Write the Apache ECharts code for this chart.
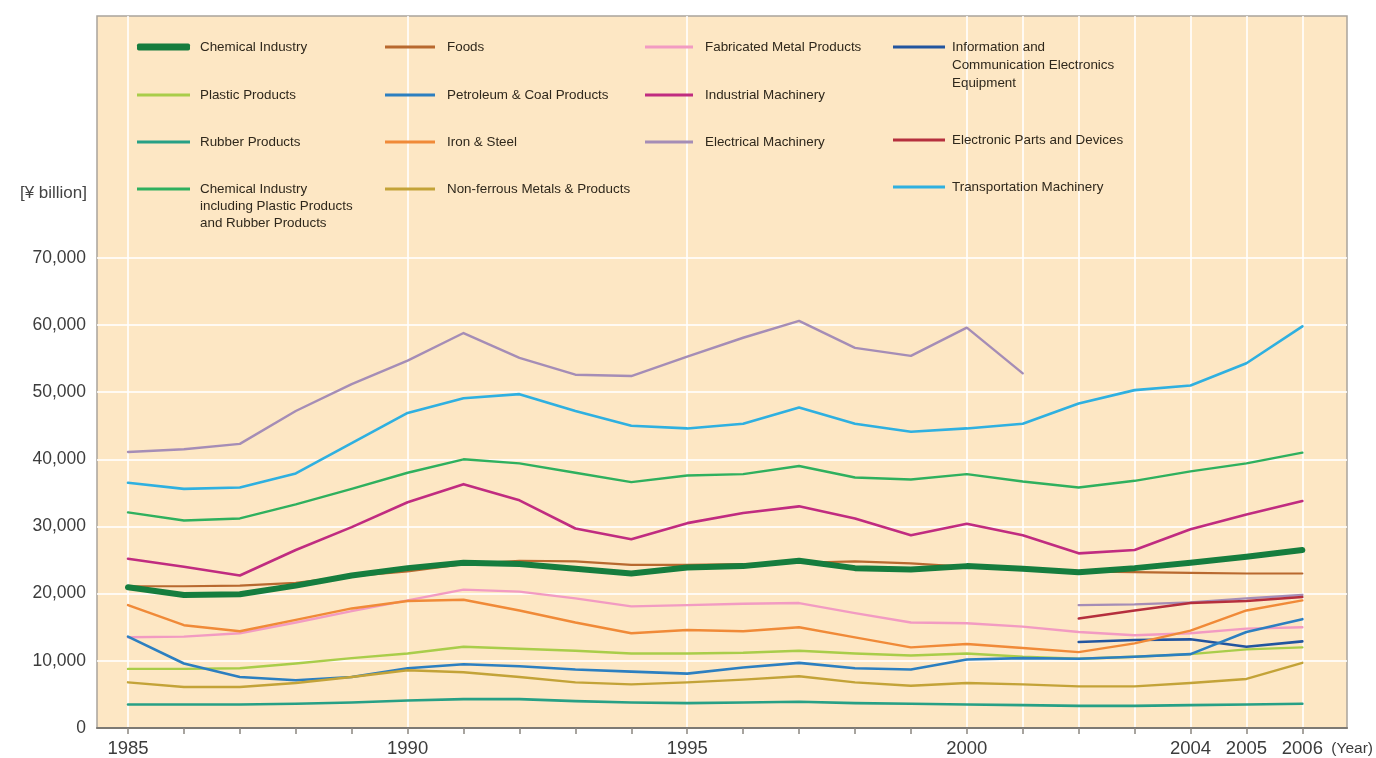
<!DOCTYPE html>
<html>
<head>
<meta charset="utf-8">
<script src="https://cdn.jsdelivr.net/npm/echarts@6.0.0/dist/echarts.min.js"></script>
<style>
  html, body { margin: 0; padding: 0; background: #ffffff; }
  #chart { width: 1376px; height: 758px; }
</style>
</head>
<body>
<div id="chart"></div>
<script>
// Shipments by industry, 1985-2006 [¥ billion]
const years = ['1985','1986','1987','1988','1989','1990','1991','1992','1993','1994','1995',
               '1996','1997','1998','1999','2000','2001','2002','2003','2004','2005','2006'];
const labeledYears = ['1985','1990','1995','2000','2004','2005','2006'];
const gridYears = ['1985','1990','1995','2000','2001','2002','2003','2004','2005','2006'];

const chemicalIndustry = [20950, 19800, 19900, 21200, 22700, 23800, 24600, 24400, 23700, 23000, 23900,
                          24100, 24900, 23800, 23600, 24100, 23700, 23200, 23800, 24600, 25500, 26500];
const foods            = [21100, 21100, 21200, 21600, 22600, 23300, 24400, 24900, 24800, 24300, 24300,
                          24400, 24600, 24800, 24500, 24000, 23700, 23300, 23200, 23100, 23000, 23000];
const fabricatedMetal  = [13500, 13600, 14100, 15700, 17400, 19000, 20600, 20300, 19300, 18100, 18300,
                          18500, 18600, 17100, 15700, 15600, 15100, 14300, 13800, 14100, 14800, 15000];
const infoComm         = [null, null, null, null, null, null, null, null, null, null, null,
                          null, null, null, null, null, null, 12800, 13100, 13200, 12100, 12900];
const plasticProducts  = [8800, 8800, 8900, 9600, 10400, 11100, 12100, 11800, 11500, 11100, 11100,
                          11200, 11500, 11100, 10800, 11100, 10600, 10300, 10600, 11000, 11700, 12000];
const petroleumCoal    = [13600, 9600, 7600, 7100, 7600, 8900, 9500, 9200, 8700, 8400, 8100,
                          9000, 9700, 8900, 8700, 10200, 10400, 10300, 10600, 11000, 14300, 16200];
const industrialMach   = [25200, 24000, 22700, 26500, 29900, 33600, 36300, 33900, 29700, 28100, 30500,
                          32000, 33000, 31200, 28700, 30400, 28700, 26000, 26500, 29600, 31800, 33800];
const rubberProducts   = [3500, 3500, 3500, 3600, 3800, 4100, 4300, 4300, 4000, 3800, 3700,
                          3800, 3900, 3700, 3600, 3500, 3400, 3300, 3300, 3400, 3500, 3600];
const ironSteel        = [18300, 15300, 14400, 16100, 17800, 18900, 19100, 17500, 15700, 14100, 14600,
                          14400, 15000, 13500, 12000, 12500, 11900, 11300, 12600, 14500, 17500, 19000];
const electricalMach   = [41100, 41500, 42300, 47200, 51200, 54700, 58800, 55100, 52600, 52400, 55300,
                          58100, 60600, 56600, 55400, 59600, 52800, null, null, null, null, null];
const electricalMach02 = [null, null, null, null, null, null, null, null, null, null, null,
                          null, null, null, null, null, null, 18300, 18400, 18700, 19300, 19800];
const electronicParts  = [null, null, null, null, null, null, null, null, null, null, null,
                          null, null, null, null, null, null, 16300, 17500, 18600, 18900, 19500];
const chemicalInclPR   = [32100, 30900, 31200, 33300, 35600, 38000, 40000, 39400, 38000, 36600, 37600,
                          37800, 39000, 37300, 37000, 37800, 36700, 35800, 36800, 38200, 39400, 41000];
const nonFerrous       = [6800, 6100, 6100, 6700, 7600, 8600, 8300, 7600, 6800, 6500, 6800,
                          7200, 7700, 6800, 6300, 6700, 6500, 6200, 6200, 6700, 7300, 9700];
const transportMach    = [36500, 35600, 35800, 37900, 42400, 46900, 49100, 49700, 47200, 45000, 44600,
                          45300, 47700, 45300, 44100, 44600, 45300, 48300, 50300, 51000, 54300, 59800];

const NAME_CHEM_INCL = 'Chemical Industry\nincluding Plastic Products\nand Rubber Products';
const NAME_INFO = 'Information and\nCommunication Electronics\nEquipment';

// line series: name, values, colour, width
const lines = [
  ['Chemical Industry', chemicalIndustry, '#167d3e', 6],
  ['Foods', foods, '#b8692f', 2.2],
  ['Fabricated Metal Products', fabricatedMetal, '#f29bc2', 2.4],
  [NAME_INFO, infoComm, '#22559f', 2.6],
  ['Plastic Products', plasticProducts, '#a9cd4a', 2.4],
  ['Petroleum & Coal Products', petroleumCoal, '#2c7fc0', 2.6],
  ['Industrial Machinery', industrialMach, '#c02c80', 2.6],
  ['Rubber Products', rubberProducts, '#27a085', 2.6],
  ['Iron & Steel', ironSteel, '#f08a38', 2.4],
  ['Electrical Machinery', electricalMach, '#a58db6', 2.4],
  ['Electrical Machinery', electricalMach02, '#a58db6', 2.4],
  ['Electronic Parts and Devices', electronicParts, '#b52f3d', 2.4],
  [NAME_CHEM_INCL, chemicalInclPR, '#2fb05e', 2.4],
  ['Non-ferrous Metals & Products', nonFerrous, '#c3a338', 2.4],
  ['Transportation Machinery', transportMach, '#2fb0e0', 2.6]
];

// legend layout: name, left of key, centre of first text line, key width, text gap, line height
const legendLayout = [
  ['Chemical Industry', 137, 47, 53, 5, 17],
  ['Plastic Products', 137, 95, 53, 5, 17],
  ['Rubber Products', 137, 142, 53, 5, 17],
  [NAME_CHEM_INCL, 137, 189, 53, 5, 17],
  ['Foods', 385, 47, 50, 7, 17],
  ['Petroleum & Coal Products', 385, 95, 50, 7, 17],
  ['Iron & Steel', 385, 142, 50, 7, 17],
  ['Non-ferrous Metals & Products', 385, 189, 50, 7, 17],
  ['Fabricated Metal Products', 645, 47, 48, 7, 17],
  ['Industrial Machinery', 645, 95, 48, 7, 17],
  ['Electrical Machinery', 645, 142, 48, 7, 17],
  [NAME_INFO, 893, 47, 52, 2, 18],
  ['Electronic Parts and Devices', 893, 140, 52, 2, 17],
  ['Transportation Machinery', 893, 187, 52, 2, 17]
];

const TEXT_FONT = "'Liberation Sans', Arial, Helvetica, sans-serif";
const Y_MAX = 106000;

const legends = legendLayout.map(([name, left, cy, w, gap, lh]) => {
  const rows = name.split('\n').length;
  // blank lines ahead of a wrapped name keep the key level with its first line
  const lead = rows - 1;
  const total = lead + rows;
  return {
    data: [name],
    left: left,
    top: cy - lh * (lead + 0.5),
    padding: 0,
    itemWidth: w,
    itemHeight: name === 'Chemical Industry' ? 7 : 3,
    icon: name === 'Chemical Industry' ? 'roundRect' : 'rect',
    selectedMode: false,
    formatter: n => '\n'.repeat(lead) + n,
    textStyle: {
      fontFamily: TEXT_FONT,
      fontSize: 13.4,
      color: '#2f281c',
      lineHeight: lh,
      padding: [0, 0, 0, gap]
    }
  };
});

const series = lines.map(([name, values, color, width]) => ({
  name: name,
  type: 'line',
  xAxisIndex: 1,
  yAxisIndex: 1,
  data: values,
  symbol: 'none',
  connectNulls: false,
  color: color,
  lineStyle: { color: color, width: width, cap: 'round', join: 'round' },
  emphasis: { disabled: true },
  z: name === 'Chemical Industry' ? 3 : 2
}));

// white guide lines for 0..70,000 only; the band above holds the key
const hLineColors = [];
for (let v = 0; v <= 100000; v += 10000) hLineColors.push(v <= 70000 ? 'rgba(255,255,255,0.8)' : 'rgba(255,255,255,0)');
hLineColors.push('rgba(255,255,255,0)');

const chart = echarts.init(document.getElementById('chart'), null, { renderer: 'canvas' });
chart.setOption({
  backgroundColor: '#ffffff',
  animation: false,
  title: {
    text: '[¥ billion]',
    right: 1376 - 87,
    top: 185,
    padding: 0,
    textStyle: { fontFamily: TEXT_FONT, fontSize: 17, fontWeight: 'normal', color: '#444444' }
  },
  legend: legends,
  grid: [
    { left: 97, right: 29, top: 16, bottom: 30, show: true, backgroundColor: '#fde7c4',
      borderColor: '#a9a49c', borderWidth: 1.5 },
    { left: 128, right: 72, top: 16, bottom: 30 }
  ],
  xAxis: [
    { gridIndex: 0, type: 'value', min: 0, max: 1,
      axisLine: { show: true, lineStyle: { color: '#7d7a74', width: 2 } },
      axisTick: { show: false }, axisLabel: { show: false }, splitLine: { show: false } },
    { gridIndex: 1, type: 'category', data: years, boundaryGap: false,
      axisLine: { show: false },
      axisTick: { show: true, interval: 0, length: 6, lineStyle: { color: '#8a8780', width: 1.5 } },
      axisLabel: {
        interval: (i, v) => labeledYears.includes(v),
        margin: 11,
        fontFamily: TEXT_FONT, fontSize: 18.5, color: '#3c3c3c'
      },
      splitLine: {
        show: true,
        interval: (i, v) => gridYears.includes(v),
        lineStyle: { color: 'rgba(255,255,255,0.8)', width: 2 }
      },
      name: '(Year)',
      nameLocation: 'end',
      nameGap: 29,
      nameTextStyle: { fontFamily: TEXT_FONT, fontSize: 15.5, color: '#3c3c3c',
        align: 'left', verticalAlign: 'top', padding: [13, 0, 0, 0] }
    }
  ],
  yAxis: [
    { gridIndex: 0, type: 'value', min: 0, max: Y_MAX, interval: 10000,
      axisLine: { show: false }, axisTick: { show: false },
      axisLabel: {
        margin: 11,
        fontFamily: TEXT_FONT, fontSize: 17.5, color: '#3c3c3c',
        formatter: v => (v > 70000 ? '' : v.toLocaleString('en-US'))
      },
      splitLine: { show: true, lineStyle: { color: hLineColors, width: 2 } } },
    { gridIndex: 1, type: 'value', min: 0, max: Y_MAX, interval: 10000, show: false,
      splitLine: { show: false } }
  ],
  series: series
});
</script>
</body>
</html>
